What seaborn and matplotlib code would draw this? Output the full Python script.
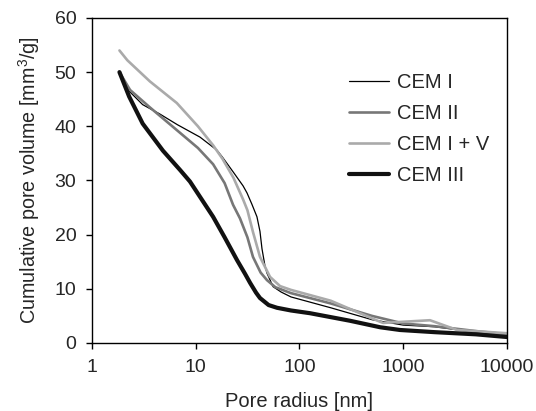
import numpy as np
import pandas as pd
import matplotlib
matplotlib.use('Agg')
import matplotlib.pyplot as plt
import seaborn as sns
from matplotlib.ticker import FixedLocator, FixedFormatter, NullLocator

# pore radius [nm] and cumulative pore volume [mm3/g]
cem1_x = [1.84, 2.28, 3.08, 4.48, 6.65, 11.0, 16.0, 18.1, 23.1, 28.6, 31.2, 34.8, 38.9, 41.6, 43.5, 46.5, 48.6, 55.6, 66.6, 82.8, 200, 500, 1000, 2000, 5000, 10000]
cem1_y = [49.5, 46.5, 44.0, 42.3, 40.3, 38.0, 35.6, 34.3, 31.5, 29.0, 27.7, 25.6, 23.3, 20.6, 17.4, 14.2, 12.9, 10.4, 9.4, 8.5, 6.5, 4.3, 3.3, 3.0, 2.0, 1.3]

cem2_x = [1.84, 2.33, 3.61, 6.57, 10.5, 14.7, 19.0, 22.9, 26.7, 31.5, 35.6, 42.2, 48.6, 58.5, 82.8, 200, 500, 1000, 2000, 5000, 10000]
cem2_y = [50, 46.7, 43.5, 39.3, 36.0, 33.0, 29.5, 25.5, 23.0, 19.5, 15.9, 13.0, 11.6, 10.3, 9.2, 7.3, 5.0, 3.6, 3.1, 2.2, 1.6]

cem1v_x = [1.84, 2.19, 3.61, 6.57, 10.5, 14.7, 18.1, 23.1, 28.6, 31.5, 35.6, 41.6, 52.0, 65.0, 82.8, 200, 600, 640, 1810, 3300, 10000]
cem1v_y = [54, 52.2, 48.3, 44.3, 40.0, 36.5, 34.0, 30.5, 26.5, 24.5, 20.5, 15.9, 12.2, 10.5, 9.8, 7.8, 3.9, 3.7, 4.2, 2.4, 1.8]

cem3_x = [1.84, 2.28, 3.08, 4.83, 7.09, 8.8, 14.7, 19.0, 25.0, 29.8, 33.4, 38.1, 41.6, 50.4, 60.7, 82.8, 126, 307, 600, 930, 2000, 5000, 10000]
cem3_y = [50, 45.5, 40.5, 35.5, 31.9, 29.8, 23.3, 19.5, 15.3, 12.8, 11.1, 9.3, 8.3, 7.0, 6.5, 6.0, 5.5, 4.1, 2.9, 2.4, 2.0, 1.6, 1.1]

labels = ['CEM I', 'CEM II', 'CEM I + V', 'CEM III']
xs = [cem1_x, cem2_x, cem1v_x, cem3_x]
ys = [cem1_y, cem2_y, cem1v_y, cem3_y]
colors = ['#000000', '#777777', '#aaaaaa', '#111111']
widths = [0.9, 1.9, 1.9, 3.0]

sns.set_style('ticks')
plt.rcParams['font.family'] = ['Liberation Sans', 'DejaVu Sans']
plt.rcParams['mathtext.fontset'] = 'custom'
plt.rcParams['mathtext.rm'] = 'Liberation Sans'

fig = plt.figure(figsize=(5.36, 4.11), dpi=100)
ax = fig.add_axes([0.1716, 0.1655, 0.7743, 0.7908])

for x, y, lab, c, w in zip(xs, ys, labels, colors, widths):
    df = pd.DataFrame({'r': x, 'v': y})
    sns.lineplot(data=df, x='r', y='v', ax=ax, color=c, linewidth=w, label=lab)

ax.set_xscale('log')
ax.set_xlim(1, 10000)
ax.set_ylim(0, 60)
ax.xaxis.set_major_locator(FixedLocator([1, 10, 100, 1000, 10000]))
ax.xaxis.set_major_formatter(FixedFormatter(['1', '10', '100', '1000', '10000']))
ax.xaxis.set_minor_locator(NullLocator())
ax.set_yticks(range(0, 61, 10))
ax.tick_params(axis='both', direction='out', length=4.3, width=1, labelsize=14, color='black')
ax.tick_params(axis='x', pad=7.5)
ax.tick_params(axis='y', pad=7)
for s in ax.spines.values():
    s.set_visible(True)
    s.set_color('black')
    s.set_linewidth(1)

ax.set_xlabel('Pore radius [nm]', fontsize=14.5, labelpad=11)
ax.set_ylabel('Cumulative pore volume [mm$^\\mathrm{3}$/g]', fontsize=14.2, labelpad=9)

ax.legend(loc='upper left', bbox_to_anchor=(0.619, 0.830), frameon=False, fontsize=14.5,
          handlelength=2.0, labelspacing=0.6, handletextpad=0.4,
          borderpad=0, borderaxespad=0)

fig.savefig('out.png', dpi=100)
